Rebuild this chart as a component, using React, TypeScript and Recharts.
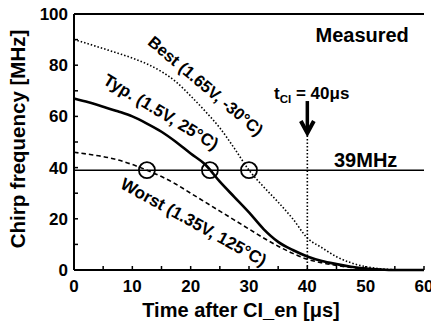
import { LineChart, Line, XAxis, YAxis, ReferenceLine, ReferenceDot } from 'recharts';

const timeUs = [0, 2.5, 5, 7.5, 10, 12.5, 15, 17.5, 20, 22.5, 25, 27.5, 30, 32.5, 35, 37.5, 40, 42.5, 45, 47.5, 50, 52.5, 55, 57.5, 60];
const bestMHz = [90, 88.3, 86.5, 84.7, 82.8, 80.5, 77.5, 73.5, 68, 62, 55.5, 47.5, 39, 32.5, 26.5, 20, 12.5, 8.7, 5.2, 2.8, 1.3, 0.5, 0.1, 0, 0];
const typMHz = [67, 65.5, 63.8, 62, 60, 57.2, 54, 50, 45.5, 41.2, 34.5, 28.5, 22.5, 16, 11, 7.8, 5.3, 3.5, 2.3, 1.3, 0.6, 0.2, 0, 0, 0];
const worstMHz = [46, 45.2, 44.3, 43, 41.2, 39, 36.5, 33.5, 30, 26.5, 23, 19.5, 16, 12.5, 9.3, 6.5, 4.2, 2.8, 1.8, 1, 0.5, 0.2, 0, 0, 0];

const targetMHz = 39;
const crossingUs = [12.5, 23.3, 30];
const tciUs = 40;

const xTicks = [0, 5, 10, 15, 20, 25, 30, 35, 40, 45, 50, 55, 60];
const yTicks = [0, 10, 20, 30, 40, 50, 60, 70, 80, 90, 100];

const data = timeUs.map((t, i) => ({ t, best: bestMHz[i], typ: typMHz[i], worst: worstMHz[i] }));

const FONT = '"Liberation Sans", Arial, sans-serif';
const bold = { fontFamily: FONT, fontWeight: 700, fill: '#000' };

function XTick(props: any) {
  const { x, y, payload } = props;
  const v = payload.value;
  return (
    <g>
      <line x1={x} x2={x} y1={y} y2={y - 4} stroke="#000" strokeWidth={1.5} />
      {v % 10 === 0 && (
        <text x={x} y={y + 22} textAnchor="middle" fontSize={17} style={bold}>{v}</text>
      )}
    </g>
  );
}

function YTick(props: any) {
  const { x, y, payload } = props;
  const v = payload.value;
  return (
    <g>
      <line x1={x} x2={x + 4} y1={y} y2={y} stroke="#000" strokeWidth={1.5} />
      {v % 20 === 0 && (
        <text x={x - 6} y={y + 6} textAnchor="end" fontSize={17} style={bold}>{v}</text>
      )}
    </g>
  );
}

function RightTick(props: any) {
  const { x, y } = props;
  return <line x1={x} x2={x - 4} y1={y} y2={y} stroke="#000" strokeWidth={1} />;
}

// rotated text placed at a data point
const note = (text: string, angle: number, size = 17) => (p: any) => (
  <text
    x={p.cx}
    y={p.cy}
    textAnchor="middle"
    dominantBaseline="central"
    fontSize={size}
    style={bold}
    transform={`rotate(${angle}, ${p.cx}, ${p.cy})`}
  >
    {text}
  </text>
);

export default function App() {
  return (
    <div style={{ position: 'absolute', left: 0, top: 0, width: 431, height: 323, background: '#fff' }}>
      <LineChart width={431} height={323} data={data} margin={{ top: 14, right: 7, left: 0, bottom: 0 }}>
        <XAxis
          dataKey="t"
          type="number"
          domain={[0, 60]}
          ticks={xTicks}
          interval={0}
          tickSize={0}
          tickMargin={0}
          height={53}
          axisLine={{ stroke: '#000', strokeWidth: 2 }}
          tickLine={false}
          tick={<XTick />}
          label={{
            content: ({ viewBox }: any) => (
              <text x={viewBox.x + viewBox.width / 2 - 8} y={viewBox.y + viewBox.height - 6} textAnchor="middle" fontSize={20} style={bold}>
                Time after CI_en [μs]
              </text>
            ),
          }}
        />
        <YAxis
          type="number"
          domain={[0, 100]}
          ticks={yTicks}
          interval={0}
          tickSize={0}
          tickMargin={0}
          width={74}
          axisLine={{ stroke: '#000', strokeWidth: 2 }}
          tickLine={false}
          tick={<YTick />}
          label={{
            content: ({ viewBox }: any) => {
              const cx = 25;
              const cy = viewBox.y + viewBox.height / 2 - 3;
              return (
                <text x={cx} y={cy} textAnchor="middle" fontSize={20.5} style={bold} transform={`rotate(-90, ${cx}, ${cy})`}>
                  Chirp frequency [MHz]
                </text>
              );
            },
          }}
        />
        <YAxis
          yAxisId="r"
          orientation="right"
          type="number"
          domain={[0, 100]}
          ticks={yTicks}
          interval={0}
          tickSize={0}
          tickMargin={0}
          width={0}
          axisLine={{ stroke: '#000', strokeWidth: 1 }}
          tickLine={false}
          tick={<RightTick />}
        />
        <ReferenceLine y={100} stroke="#000" strokeWidth={2} />
        <ReferenceLine y={targetMHz} stroke="#000" strokeWidth={1.5} />
        <ReferenceLine
          segment={[{ x: tciUs, y: 0 }, { x: tciUs, y: 53 }]}
          stroke="#000"
          strokeWidth={1.6}
          strokeDasharray="1.5 2"
        />
        <ReferenceLine segment={[{ x: tciUs, y: 66 }, { x: tciUs, y: 54.5 }]} stroke="#000" strokeWidth={3.5} />
        <ReferenceDot
          x={tciUs}
          y={53.5}
          r={0}
          shape={(p: any) => (
            <path d={`M${p.cx - 6.5},${p.cy - 12} L${p.cx},${p.cy} L${p.cx + 6.5},${p.cy - 12}`} fill="none" stroke="#000" strokeWidth={4} />
          )}
        />
        <Line dataKey="best" type="monotone" stroke="#000" strokeWidth={1.6} strokeDasharray="1.5 2" dot={false} isAnimationActive={false} />
        <Line dataKey="typ" type="monotone" stroke="#000" strokeWidth={2.6} dot={false} isAnimationActive={false} />
        <Line dataKey="worst" type="monotone" stroke="#000" strokeWidth={1.6} strokeDasharray="4.5 3" dot={false} isAnimationActive={false} />
        {crossingUs.map((t) => (
          <ReferenceDot key={t} x={t} y={targetMHz} r={8} fill="none" stroke="#000" strokeWidth={1.8} />
        ))}
        <ReferenceDot x={22.6} y={72} r={0} shape={note('Best (1.65V, -30°C)', 40, 16.5)} />
        <ReferenceDot x={14.9} y={61.7} r={0} shape={note('Typ. (1.5V, 25°C)', 31, 17)} />
        <ReferenceDot x={20.5} y={18.6} r={0} shape={note('Worst (1.35V, 125°C)', 29, 17)} />
        <ReferenceDot
          x={34.3}
          y={66.8}
          r={0}
          shape={(p: any) => (
            <text x={p.cx} y={p.cy} fontSize={17} style={bold}>
              t<tspan fontSize={11.5} dy={4}>CI</tspan>
              <tspan dy={-4}> = 40μs</tspan>
            </text>
          )}
        />
        <ReferenceDot
          x={49.4}
          y={89}
          r={0}
          shape={(p: any) => (
            <text x={p.cx} y={p.cy} textAnchor="middle" fontSize={20} style={bold}>Measured</text>
          )}
        />
        <ReferenceDot
          x={50}
          y={40.2}
          r={0}
          shape={(p: any) => (
            <text x={p.cx} y={p.cy} textAnchor="middle" fontSize={20} style={bold}>39MHz</text>
          )}
        />
      </LineChart>
    </div>
  );
}
